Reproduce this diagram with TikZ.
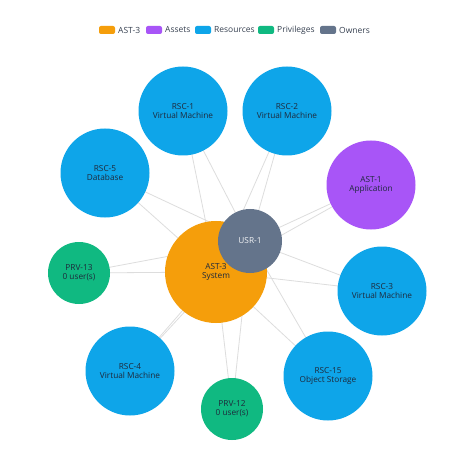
\documentclass[tikz,border=0pt]{standalone}
\usepackage{fontspec}
\setmainfont{Open Sans}
\definecolor{cOrange}{HTML}{F59E0B}
\definecolor{cPurple}{HTML}{A855F7}
\definecolor{cBlue}{HTML}{0EA5E9}
\definecolor{cGreen}{HTML}{10B981}
\definecolor{cGray}{HTML}{64748B}
\definecolor{cText}{HTML}{1E293B}
\definecolor{cEdge}{HTML}{DDDDDD}
\definecolor{cLeg}{HTML}{374151}
\begin{document}
\begin{tikzpicture}[x=1bp,y=-1bp,
  ent/.style={circle, inner sep=0pt, align=center, text=cText, font=\fontsize{8.3}{9}\selectfont},
  big/.style={ent, minimum size=89bp},
  small/.style={ent, minimum size=62bp},
  edge/.style={draw=cEdge, line width=0.8bp},
  swatch/.style={rounded corners=2bp, minimum width=16bp, minimum height=8bp, inner sep=0pt},
  legtext/.style={anchor=west, inner sep=0pt, text=cLeg, font=\fontsize{8.5}{10}\selectfont}]
\useasboundingbox[fill=white] (0,0) rectangle (474,474);
% coordinates for node centres
\coordinate (pAST3) at (216,272);
\coordinate (pUSR1) at (250,241);
% edges (drawn first)
\foreach \p in {(183,111),(287,111),(105,173),(371,185),(79,273),(382,291),(130,371),(232,409),(328,376)} {
  \draw[edge] (pAST3) -- \p;
  \draw[edge] (pUSR1) -- \p;
}
\draw[edge] (pAST3) -- (pUSR1);
% nodes
\node[big, fill=cBlue] (rsc1) at (183,111) {RSC-1\\Virtual Machine};
\node[big, fill=cBlue] (rsc2) at (287,111) {RSC-2\\Virtual Machine};
\node[big, fill=cBlue] (rsc5) at (105,173) {RSC-5\\Database};
\node[big, fill=cPurple] (ast1) at (371,185) {AST-1\\Application};
\node[small, fill=cGreen] (prv13) at (79,273) {PRV-13\\0 user(s)};
\node[big, fill=cBlue] (rsc3) at (382,291) {RSC-3\\Virtual Machine};
\node[big, fill=cBlue] (rsc4) at (130,371) {RSC-4\\Virtual Machine};
\node[small, fill=cGreen] (prv12) at (232,409) {PRV-12\\0 user(s)};
\node[big, fill=cBlue] (rsc15) at (328,376) {RSC-15\\Object Storage};
\node[ent, minimum size=102bp, fill=cOrange] (ast3) at (pAST3) {AST-3\\System};
\node[ent, minimum size=64bp, fill=cGray, text=white!92!cGray] (usr1) at (pUSR1) {USR-1};
% legend
\node[swatch, fill=cOrange] (l1) at (107,30) {};
\node[legtext] (t1) at (118,30) {AST-3};
\node[swatch, fill=cPurple] (l2) at (154,30) {};
\node[legtext] (t2) at (165,30) {Assets};
\node[swatch, fill=cBlue] (l3) at (203,30) {};
\node[legtext] (t3) at (214,30) {Resources};
\node[swatch, fill=cGreen] (l4) at (266,30) {};
\node[legtext] (t4) at (277,30) {Privileges};
\node[swatch, fill=cGray] (l5) at (328,30) {};
\node[legtext] (t5) at (339,30) {Owners};
\end{tikzpicture}
\end{document}
